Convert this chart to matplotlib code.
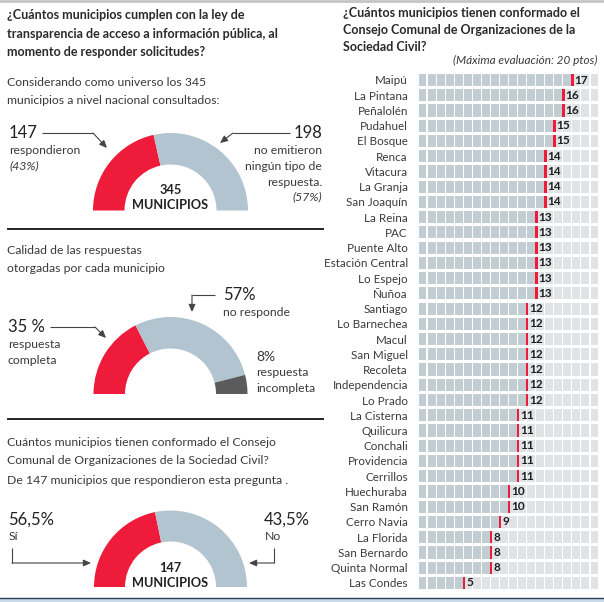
import numpy as np
import matplotlib
matplotlib.use('Agg')
import matplotlib.pyplot as plt

plt.rcParams['font.family'] = ['Lato', 'DejaVu Sans']

# ---- datos ----
universo = [43, 57]                 # respondieron / no emitieron
calidad = [35, 57, 8]               # completa / no responde / incompleta
consejo_arco = [43.5, 56.5]         # arco dibujado (rojo / gris)

comunas = ['Maipú', 'La Pintana', 'Peñalolén', 'Pudahuel', 'El Bosque', 'Renca',
           'Vitacura', 'La Granja', 'San Joaquín', 'La Reina', 'PAC', 'Puente Alto',
           'Estación Central', 'Lo Espejo', 'Ñuñoa', 'Santiago', 'Lo Barnechea',
           'Macul', 'San Miguel', 'Recoleta', 'Independencia', 'Lo Prado',
           'La Cisterna', 'Quilicura', 'Conchali', 'Providencia', 'Cerrillos',
           'Huechuraba', 'San Ramón', 'Cerro Navia', 'La Florida', 'San Bernardo',
           'Quinta Normal', 'Las Condes']
puntos = [17, 16, 16, 15, 15, 14, 14, 14, 14, 13, 13, 13, 13, 13, 13, 12, 12,
          12, 12, 12, 12, 12, 11, 11, 11, 11, 11, 10, 10, 9, 8, 8, 8, 5]
max_pts = 20

ROJO = '#ee1b3a'
GRIS = '#b1c4cf'
OSCURO = '#5b5b5b'
TXT = '#3a3a3a'

W, H = 604, 602
fig = plt.figure(figsize=(W / 100, H / 100), dpi=100)

# lienzo en pixeles
cv = fig.add_axes([0, 0, 1, 1])
cv.set_xlim(0, W)
cv.set_ylim(H, 0)
cv.axis('off')


def px_axes(x, y, w, h):
    return fig.add_axes([x / W, 1 - (y + h) / H, w / W, h / H])


def dona(cx, cy, R, r, vals, cols):
    ax = px_axes(cx - R, cy - R, 2 * R, 2 * R)
    tot = sum(vals)
    ax.pie(vals + [tot], colors=cols + ['none'], startangle=180, counterclock=False,
           radius=1, wedgeprops=dict(width=(R - r) / R, linewidth=0))
    ax.set_xlim(-1, 1)
    ax.set_ylim(-1, 1)
    ax.set_aspect('equal')
    ax.axis('off')


def flecha(pts, lw=0.8):
    xs = [p[0] for p in pts]
    ys = [p[1] for p in pts]
    cv.plot(xs[:-1], ys[:-1], color='#444444', lw=lw, solid_capstyle='butt')
    cv.annotate('', xy=pts[-1], xytext=pts[-2],
                arrowprops=dict(arrowstyle='-|>,head_length=0.45,head_width=0.2',
                                color='#444444', lw=lw, shrinkA=0, shrinkB=0))


# bordes
cv.plot([0, W], [0.8, 0.8], color='#c4c4c4', lw=2)
cv.add_patch(plt.Rectangle((0, 598), W, 5, color='#c9daea', lw=0))
cv.plot([0, W], [598, 598], color='#2b3f55', lw=1)

# ---- panel izquierdo ----
tb = dict(fontsize=9.0, fontweight='bold', color='#2a2a2a', va='center')
cv.text(7, 15, '¿Cuántos municipios cumplen con la ley de', **tb)
cv.text(7, 34, 'transparencia de acceso a información pública, al', **tb)
cv.text(7, 52, 'momento de responder solicitudes?', **tb)

tn = dict(fontsize=8.8, color=TXT, va='center')
cv.text(7, 83, 'Considerando como universo los 345', **tn)
cv.text(7, 101, 'municipios a nivel nacional consultados:', **tn)

dona(170.5, 210.5, 77.5, 46, universo, [ROJO, GRIS])
tc = dict(fontsize=9.2, fontweight='bold', color='#222222', ha='center', va='center')
cv.text(170.5, 190, '345', **tc)
cv.text(170.5, 205, 'MUNICIPIOS', **tc)

big = dict(fontsize=12, color='#222222', va='center')
cv.text(9, 133, '147', **big)
cv.text(9, 150, 'respondieron', **tn)
cv.text(9, 166, '(43%)', style='italic', **tn)
flecha([(42, 133), (93, 133), (107, 148)])

cv.text(322, 133, '198', ha='right', **big)
tr = dict(tn, ha='right')
cv.text(322, 150, 'no emitieron', **tr)
cv.text(322, 166, 'ningún tipo de', **tr)
cv.text(322, 182, 'respuesta.', **tr)
cv.text(322, 197, '(57%)', style='italic', **tr)
flecha([(290, 133), (233, 133), (220, 143)])

cv.plot([8, 323], [229, 229], color='#222222', lw=1.4)

cv.text(7, 250, 'Calidad de las respuestas', **tn)
cv.text(7, 268, 'otorgadas por cada municipio', **tn)

dona(170.5, 394, 77, 45.5, calidad, [ROJO, GRIS, OSCURO])
cv.text(223, 295, '57%', **big)
cv.text(223, 312, 'no responde', **tn)
flecha([(215, 295), (192, 295), (192, 312)])

cv.text(8, 327, '35 %', **big)
cv.text(8, 345, 'respuesta', **tn)
cv.text(8, 361, 'completa', **tn)
flecha([(50, 327), (95, 327), (106, 338)])

cv.text(256, 357, '8%', fontsize=10, color=TXT, va='center')
cv.text(256, 373, 'respuesta', **tn)
cv.text(256, 389, 'incompleta', **tn)

cv.plot([8, 323], [419, 419], color='#222222', lw=1.4)

cv.text(7, 443, 'Cuántos municipios tienen conformado el Consejo', **tn)
cv.text(7, 461, 'Comunal de Organizaciones de la Sociedad Civil?', **tn)
cv.text(7, 480, 'De 147 municipios que respondieron esta pregunta .', **tn)

dona(170.5, 587, 76.5, 45.5, consejo_arco, [ROJO, GRIS])
cv.text(170.5, 568, '147', **tc)
cv.text(170.5, 583, 'MUNICIPIOS', **tc)

cv.text(8, 520, '56,5%', **big)
cv.text(9, 536, 'Sí', **tn)
flecha([(12, 548), (12, 563), (91, 563)])

cv.text(310, 520, '43,5%', ha='right', **big)
cv.text(265, 536, 'No', **tn)
flecha([(274, 548), (274, 563), (249, 563)])

# ---- panel derecho ----
cv.text(343, 13, '¿Cuántos municipios tienen conformado el', **tb)
cv.text(343, 30, 'Consejo Comunal de Organizaciones de la', **tb)
cv.text(343, 47, 'Sociedad Civil?', **tb)
cv.text(597, 60, '(Máxima evaluación: 20 ptos)', ha='right', va='center',
        fontsize=8.5, style='italic', color=TXT)

n = len(comunas)
paso = 15.24
celda = 0.83
ax = px_axes(419, 80 - paso / 2, 179 / (max_pts - 1 + celda) * max_pts, n * paso)
filas = np.arange(n)
for k in range(max_pts):
    llenas = np.array(puntos) > k
    ax.barh(filas, celda, left=k, height=0.8,
            color=np.where(llenas, '#c2ccd3', '#dfe3e6'), linewidth=0)
ax.barh(filas, 0.3, left=np.array(puntos) - 0.17, height=0.8, color=ROJO, linewidth=0)
for i, v in enumerate(puntos):
    ax.text(v + 0.2, i, str(v), va='center', ha='left', fontsize=8.5,
            fontweight='bold', color='#1e1e1e')
ax.set_xlim(0, max_pts)
ax.set_ylim(n - 0.5, -0.5)
ax.set_yticks(filas)
ax.set_yticklabels(comunas, fontsize=8.4, color=TXT)
ax.tick_params(axis='y', length=0, pad=8)
ax.set_xticks([])
for s in ax.spines.values():
    s.set_visible(False)
ax.patch.set_alpha(0)

fig.savefig('out.png', dpi=100)
